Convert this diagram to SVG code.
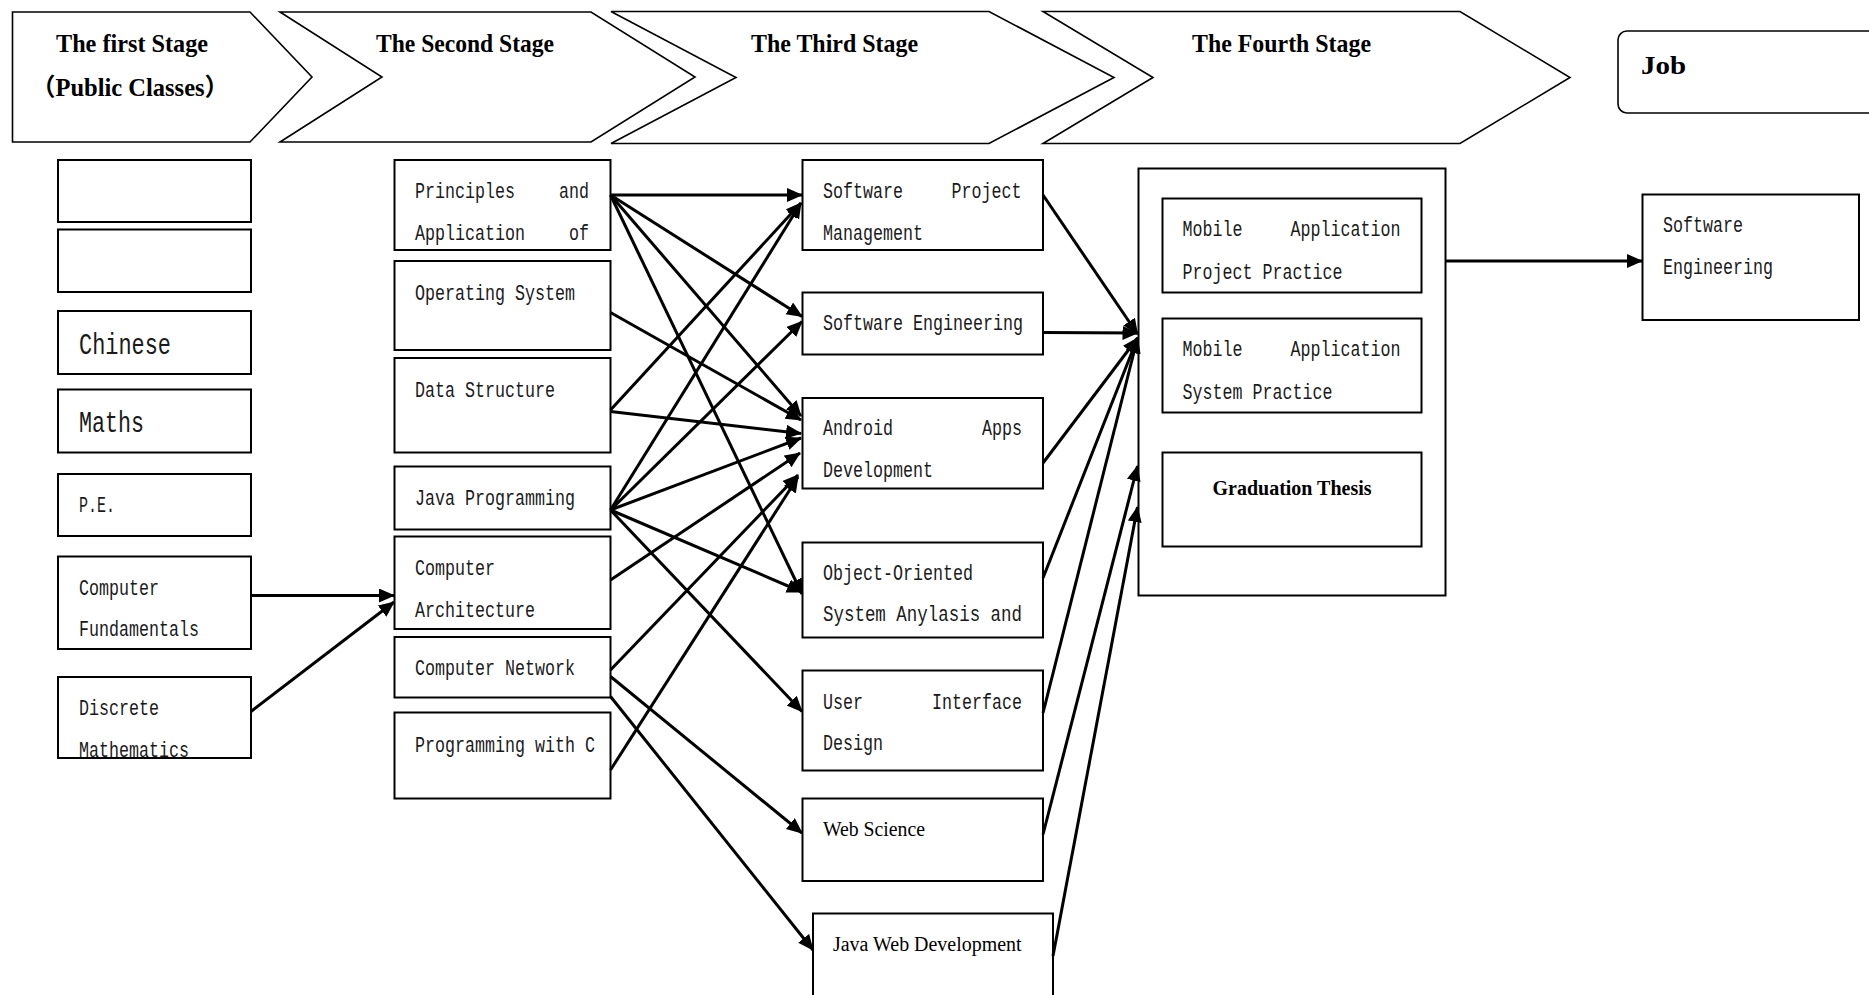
<svg xmlns="http://www.w3.org/2000/svg" width="1869" height="995" viewBox="0 0 1869 995">
<style>
.stg{fill:#fff;stroke:#000;stroke-width:1.6}
.bx{fill:#fff;stroke:#000;stroke-width:2}
.ttl{font-family:"Liberation Serif","Times New Roman",serif;font-weight:bold;font-size:26px;fill:#000}
.pc{font-family:"Liberation Serif","Times New Roman",serif;font-weight:bold;font-size:24.5px;fill:#000}
.cjk{font-family:"Noto Sans CJK SC","Liberation Serif",sans-serif;font-weight:bold}
.m{font-family:"Liberation Mono","Courier New",monospace;font-size:22.5px;fill:#1a1a1a}
.ml{font-family:"Liberation Mono","Courier New",monospace;font-size:29px;fill:#1a1a1a}
.sr{font-family:"Liberation Serif","Times New Roman",serif;font-size:20px;fill:#000}
.sb{font-family:"Liberation Serif","Times New Roman",serif;font-size:20px;font-weight:bold;fill:#000}
.c line{stroke:#000;stroke-width:3;marker-end:url(#ah)}
</style>
<defs>
<marker id="ah" markerUnits="userSpaceOnUse" markerWidth="17" markerHeight="15" refX="15" refY="7" orient="auto">
<path d="M0,0 L16,7 L0,14 z" fill="#000"/>
</marker>
</defs>
<rect width="1869" height="995" fill="#fff"/>

<g id="stage1">
<polygon class="stg" points="12.5,12 250,12 312,77 250,142 12.5,142"/>
<text class="ttl" x="56" y="52" textLength="152" lengthAdjust="spacingAndGlyphs">The first Stage</text>
<text class="pc" x="31" y="96"><tspan class="cjk">（</tspan>Public Classes<tspan class="cjk">）</tspan></text>
</g>
<g id="stage2">
<polygon class="stg" points="280,12 591,12 695,77 591,142 280,142 382,77"/>
<text class="ttl" x="376" y="52" textLength="178" lengthAdjust="spacingAndGlyphs">The Second Stage</text>
</g>
<g id="stage3">
<polygon class="stg" points="611,11.5 989,11.5 1114,77.5 989,143.5 611,143.5 736,77.5"/>
<text class="ttl" x="751" y="52" textLength="167" lengthAdjust="spacingAndGlyphs">The Third Stage</text>
</g>
<g id="stage4">
<polygon class="stg" points="1043,11.5 1460,11.5 1570,77.5 1460,143.5 1043,143.5 1153,77.5"/>
<text class="ttl" x="1192" y="52" textLength="179" lengthAdjust="spacingAndGlyphs">The Fourth Stage</text>
</g>
<g id="job">
<rect class="stg" x="1618" y="31" width="270" height="82" rx="9"/>
<text class="ttl" x="1641" y="74" textLength="45" lengthAdjust="spacingAndGlyphs">Job</text>
</g>

<!-- first column -->
<g id="blank1"><rect class="bx" x="58" y="160" width="193" height="62"/></g>
<g id="blank2"><rect class="bx" x="58" y="229.5" width="193" height="62.5"/></g>
<g id="chinese"><rect class="bx" x="58" y="311" width="193" height="63"/>
<text class="ml" x="79" y="354" textLength="92" lengthAdjust="spacingAndGlyphs">Chinese</text></g>
<g id="maths"><rect class="bx" x="58" y="389.5" width="193" height="63"/>
<text class="ml" x="79" y="432" textLength="65" lengthAdjust="spacingAndGlyphs">Maths</text></g>
<g id="pe"><rect class="bx" x="58" y="474" width="193" height="62"/>
<text class="m" x="79" y="512" textLength="36" lengthAdjust="spacingAndGlyphs">P.E.</text></g>
<g id="compfund"><rect class="bx" x="58" y="556.5" width="193" height="92.5"/>
<text class="m" x="79" y="595" textLength="80" lengthAdjust="spacingAndGlyphs">Computer</text>
<text class="m" x="79" y="636" textLength="120" lengthAdjust="spacingAndGlyphs">Fundamentals</text></g>
<g id="discrete"><rect class="bx" x="58" y="677" width="193" height="81"/>
<text class="m" x="79" y="715" textLength="80" lengthAdjust="spacingAndGlyphs">Discrete</text>
<text class="m" x="79" y="757" textLength="110" lengthAdjust="spacingAndGlyphs">Mathematics</text></g>

<!-- second column -->
<g id="principles"><rect class="bx" x="394.5" y="160" width="216" height="90"/>
<text class="m" x="415" y="198" textLength="100" lengthAdjust="spacingAndGlyphs">Principles</text>
<text class="m" x="559" y="198" textLength="30" lengthAdjust="spacingAndGlyphs">and</text>
<text class="m" x="415" y="239.5" textLength="110" lengthAdjust="spacingAndGlyphs">Application</text>
<text class="m" x="569" y="239.5" textLength="20" lengthAdjust="spacingAndGlyphs">of</text></g>
<g id="os"><rect class="bx" x="394.5" y="261" width="216" height="89"/>
<text class="m" x="415" y="300" textLength="160" lengthAdjust="spacingAndGlyphs">Operating System</text></g>
<g id="ds"><rect class="bx" x="394.5" y="358" width="216" height="94.5"/>
<text class="m" x="415" y="397" textLength="140" lengthAdjust="spacingAndGlyphs">Data Structure</text></g>
<g id="java"><rect class="bx" x="394.5" y="466.5" width="216" height="63"/>
<text class="m" x="415" y="505" textLength="160" lengthAdjust="spacingAndGlyphs">Java Programming</text></g>
<g id="comparch"><rect class="bx" x="394.5" y="536.5" width="216" height="92.5"/>
<text class="m" x="415" y="575" textLength="80" lengthAdjust="spacingAndGlyphs">Computer</text>
<text class="m" x="415" y="616.5" textLength="120" lengthAdjust="spacingAndGlyphs">Architecture</text></g>
<g id="network"><rect class="bx" x="394.5" y="637" width="216" height="60.5"/>
<text class="m" x="415" y="675" textLength="160" lengthAdjust="spacingAndGlyphs">Computer Network</text></g>
<g id="progc"><rect class="bx" x="394.5" y="712.5" width="216" height="86"/>
<text class="m" x="415" y="751.5" textLength="180" lengthAdjust="spacingAndGlyphs">Programming with C</text></g>

<!-- third column -->
<g id="spm"><rect class="bx" x="802.5" y="160" width="240.5" height="90"/>
<text class="m" x="823" y="198" textLength="80" lengthAdjust="spacingAndGlyphs">Software</text>
<text class="m" x="951.5" y="198" textLength="70" lengthAdjust="spacingAndGlyphs">Project</text>
<text class="m" x="823" y="239.5" textLength="100" lengthAdjust="spacingAndGlyphs">Management</text></g>
<g id="se"><rect class="bx" x="802.5" y="292.5" width="240.5" height="62"/>
<text class="m" x="823" y="330" textLength="200" lengthAdjust="spacingAndGlyphs">Software Engineering</text></g>
<g id="android"><rect class="bx" x="802.5" y="398" width="240.5" height="90.5"/>
<text class="m" x="823" y="435" textLength="70" lengthAdjust="spacingAndGlyphs">Android</text>
<text class="m" x="982" y="435" textLength="40" lengthAdjust="spacingAndGlyphs">Apps</text>
<text class="m" x="823" y="477" textLength="110" lengthAdjust="spacingAndGlyphs">Development</text></g>
<g id="oo"><rect class="bx" x="802.5" y="542.5" width="240.5" height="95"/>
<text class="m" x="823" y="580" textLength="150" lengthAdjust="spacingAndGlyphs">Object-Oriented</text>
<text class="m" x="823" y="620.5" textLength="199" lengthAdjust="spacingAndGlyphs">System Anylasis and</text></g>
<g id="ui"><rect class="bx" x="802.5" y="670.5" width="240.5" height="100"/>
<text class="m" x="823" y="708.5" textLength="40" lengthAdjust="spacingAndGlyphs">User</text>
<text class="m" x="932" y="708.5" textLength="90" lengthAdjust="spacingAndGlyphs">Interface</text>
<text class="m" x="823" y="750" textLength="60" lengthAdjust="spacingAndGlyphs">Design</text></g>
<g id="websci"><rect class="bx" x="802.5" y="798.5" width="240.5" height="82.5"/>
<text class="sr" x="823" y="836" textLength="102" lengthAdjust="spacingAndGlyphs">Web Science</text></g>
<g id="javaweb"><rect class="bx" x="813" y="913.5" width="240" height="100"/>
<text class="sr" x="833" y="951" textLength="188.5" lengthAdjust="spacingAndGlyphs">Java Web Development</text></g>

<!-- fourth column -->
<g id="fourth"><rect class="bx" x="1138.5" y="168.5" width="307" height="427"/></g>
<g id="mapp"><rect class="bx" x="1162.5" y="198.5" width="259" height="94"/>
<text class="m" x="1182.5" y="236" textLength="60" lengthAdjust="spacingAndGlyphs">Mobile</text>
<text class="m" x="1290.5" y="236" textLength="110" lengthAdjust="spacingAndGlyphs">Application</text>
<text class="m" x="1182.5" y="278.5" textLength="160" lengthAdjust="spacingAndGlyphs">Project Practice</text></g>
<g id="masp"><rect class="bx" x="1162.5" y="318.5" width="259" height="94"/>
<text class="m" x="1182.5" y="356" textLength="60" lengthAdjust="spacingAndGlyphs">Mobile</text>
<text class="m" x="1290.5" y="356" textLength="110" lengthAdjust="spacingAndGlyphs">Application</text>
<text class="m" x="1182.5" y="398.5" textLength="150" lengthAdjust="spacingAndGlyphs">System Practice</text></g>
<g id="thesis"><rect class="bx" x="1162.5" y="452.5" width="259" height="94"/>
<text class="sb" x="1212.5" y="494.5" textLength="159" lengthAdjust="spacingAndGlyphs">Graduation Thesis</text></g>

<g id="jobse"><rect class="bx" x="1642.5" y="194.5" width="216.5" height="125.5"/>
<text class="m" x="1663" y="232" textLength="80" lengthAdjust="spacingAndGlyphs">Software</text>
<text class="m" x="1663" y="273.5" textLength="110" lengthAdjust="spacingAndGlyphs">Engineering</text></g>

<g id="connectors" class="c">
<line x1="251" y1="595.5" x2="394" y2="595.5"/>
<line x1="251" y1="711.5" x2="394" y2="602"/>

<line x1="610.5" y1="195" x2="802" y2="195"/>
<line x1="610.5" y1="195" x2="802" y2="316.5"/>
<line x1="610.5" y1="195" x2="801" y2="416"/>
<line x1="610.5" y1="195" x2="802" y2="594"/>
<line x1="610.5" y1="312.5" x2="801" y2="420"/>
<line x1="610.5" y1="411.5" x2="801" y2="433.5"/>
<line x1="610.5" y1="410" x2="801" y2="203"/>
<line x1="610.5" y1="510" x2="801" y2="203"/>
<line x1="610.5" y1="510" x2="802" y2="321.5"/>
<line x1="610.5" y1="510" x2="801" y2="438"/>
<line x1="610.5" y1="510" x2="802" y2="592"/>
<line x1="610.5" y1="510" x2="802" y2="711.5"/>
<line x1="610.5" y1="580" x2="800" y2="453"/>
<line x1="610.5" y1="670" x2="798" y2="475"/>
<line x1="610.5" y1="676.5" x2="802" y2="833"/>
<line x1="610.5" y1="696.5" x2="813" y2="950"/>
<line x1="610.5" y1="770" x2="798" y2="477"/>

<line x1="1043" y1="195" x2="1137.5" y2="334"/>
<line x1="1043" y1="332.5" x2="1137.5" y2="333"/>
<line x1="1043" y1="463" x2="1137.5" y2="338"/>
<line x1="1043" y1="578" x2="1137.5" y2="338"/>
<line x1="1043" y1="713" x2="1137.5" y2="338"/>
<line x1="1043" y1="834.5" x2="1137.5" y2="466"/>
<line x1="1053" y1="956" x2="1137.5" y2="507"/>

<line x1="1445.5" y1="261" x2="1642" y2="261"/>
</g>
</svg>
